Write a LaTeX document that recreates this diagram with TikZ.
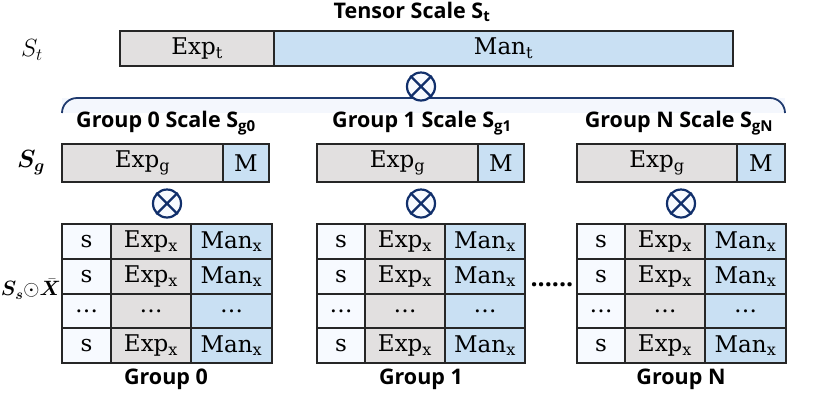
\documentclass[tikz,border=0pt]{standalone}
\usepackage{amsmath,bm}
\usepackage{fontspec}
\setmainfont{Liberation Serif}
\newfontfamily\hdfont{Open Sans}
\newfontfamily\cellfont{DejaVu Serif}
\definecolor{expgray}{HTML}{E2E0E0}
\definecolor{manblue}{HTML}{C9E0F3}
\definecolor{swhite}{HTML}{F7FAFF}
\definecolor{navy}{HTML}{112F6B}
\definecolor{bracenavy}{HTML}{1F3A6E}
\definecolor{bracefill}{HTML}{F4F7FD}
\newcommand\mkcell[7]{\node[#2, minimum width={(#5-#3)*1pt}, minimum height={(#6-#4)*1pt}] (#1) at ({(#3+#5)/2},{(#4+#6)/2}) {#7};}
\newcommand\grouptable[5]{%
  \mkcell{#1s1}{wcell}{#2}{224}{#3}{259}{s}
  \mkcell{#1e1}{gcell}{#3}{224}{#4}{259}{Exp\textsubscript{x}}
  \mkcell{#1m1}{bcell}{#4}{224}{#5}{259}{Man\textsubscript{x}}
  \mkcell{#1s2}{wcell}{#2}{259}{#3}{294}{s}
  \mkcell{#1e2}{gcell}{#3}{259}{#4}{294}{Exp\textsubscript{x}}
  \mkcell{#1m2}{bcell}{#4}{259}{#5}{294}{Man\textsubscript{x}}
  \mkcell{#1s3}{wcell}{#2}{294}{#3}{328}{\ldots}
  \mkcell{#1e3}{gcell}{#3}{294}{#4}{328}{\ldots}
  \mkcell{#1m3}{bcell}{#4}{294}{#5}{328}{\ldots}
  \mkcell{#1s4}{wcell}{#2}{328}{#3}{363}{s}
  \mkcell{#1e4}{gcell}{#3}{328}{#4}{363}{Exp\textsubscript{x}}
  \mkcell{#1m4}{bcell}{#4}{328}{#5}{363}{Man\textsubscript{x}}
}
\begin{document}
\begin{tikzpicture}[x=1pt,y=-1pt,
  cellbox/.style={draw=black!85, line width=1.3pt, inner sep=0pt, font=\cellfont\fontsize{23}{26}\selectfont},
  gcell/.style={cellbox, fill=expgray},
  bcell/.style={cellbox, fill=manblue},
  wcell/.style={cellbox, fill=swhite},
  hdr/.style={font=\hdfont\bfseries\fontsize{21.5}{24}\selectfont, inner sep=0pt},
  otimesnode/.style={circle, draw=navy, line width=2.2pt, fill=swhite, minimum size=28pt, inner sep=0pt},
  sidelab/.style={font=\fontsize{24}{26}\selectfont, inner sep=0pt}]
\useasboundingbox (0,0) rectangle (831,392);

% title
\node[hdr] (title) at (412,12) {Tensor Scale S\textsubscript{t}};
\node[sidelab] (lst) at (32,50) {$S_t$};
% tensor bar
\mkcell{expt}{gcell}{120}{31}{274}{66}{Exp\textsubscript{t}}
\mkcell{mant}{bcell}{274}{31}{733}{66}{Man\textsubscript{t}}

% brace
\fill[bracefill] (62,113) -- (62,98) -- (785,98) -- (785,113) -- cycle;
\draw[bracenavy, line width=1.8pt, rounded corners=15pt] (62,113) -- (62,98) -- (785,98) -- (785,113);
\node[otimesnode] (ot) at (421,86.5) {};
\draw[navy, line width=2.2pt] (ot.north west) -- (ot.south east) (ot.north east) -- (ot.south west);

% group scale labels
\node[hdr] (g0lab) at (166,123) {Group 0 Scale S\textsubscript{g0}};
\node[hdr] (g1lab) at (422,123) {Group 1 Scale S\textsubscript{g1}};
\node[hdr] (gNlab) at (679,123) {Group N Scale S\textsubscript{gN}};

\node[sidelab] (lsg) at (31,163) {$\bm{S}_{\bm{g}}$};
% group scale boxes
\mkcell{g0e}{gcell}{62}{144}{223}{182}{Exp\textsubscript{g}}
\mkcell{g0m}{bcell}{223}{144}{269}{182}{M}
\mkcell{g1e}{gcell}{317}{144}{478}{182}{Exp\textsubscript{g}}
\mkcell{g1m}{bcell}{478}{144}{524}{182}{M}
\mkcell{gNe}{gcell}{577}{144}{737}{182}{Exp\textsubscript{g}}
\mkcell{gNm}{bcell}{737}{144}{785}{182}{M}

% otimes per group
\foreach \c/\xx in {o0/167, o1/421, oN/681}{
  \node[otimesnode] (\c) at (\xx,203.5) {};
  \draw[navy, line width=2.2pt] (\c.north west) -- (\c.south east) (\c.north east) -- (\c.south west);
}

\node[sidelab, font=\fontsize{20}{23}\selectfont, anchor=east] (lsx) at (61,289) {$\bm{S}_{\bm{s}}{\odot}\bar{\bm{X}}$};

% tables
\grouptable{ta}{62}{111}{191}{272}
\grouptable{tb}{317}{365}{445}{525}
\grouptable{tc}{577}{625}{705}{786}

\node[hdr, font=\hdfont\bfseries\fontsize{25}{26}\selectfont] (dots) at (552,285) {......};

\node[hdr] (b0) at (166,379) {Group 0};
\node[hdr] (b1) at (421,379) {Group 1};
\node[hdr] (bN) at (681,379) {Group N};
\end{tikzpicture}
\end{document}
